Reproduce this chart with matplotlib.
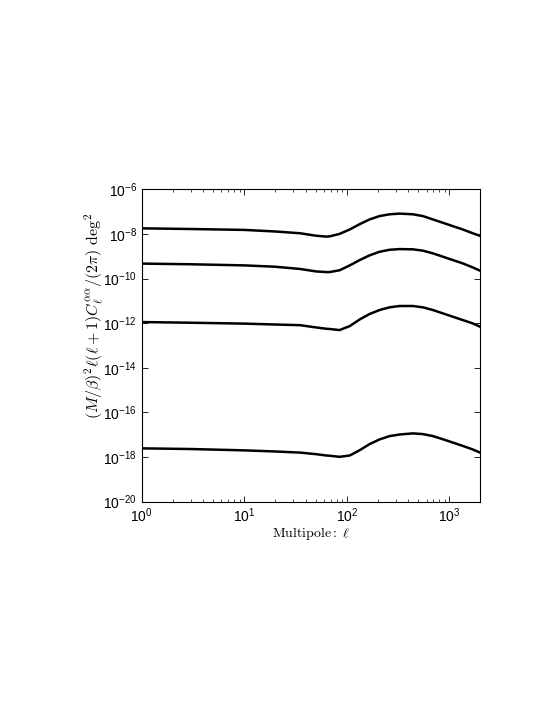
import matplotlib
matplotlib.use('Agg')
import matplotlib.pyplot as plt
import numpy as np
from matplotlib.ticker import LogLocator, NullLocator, NullFormatter

plt.rcParams['font.family'] = ['Liberation Sans', 'DejaVu Sans']
plt.rcParams['mathtext.fontset'] = 'cm'

# multipole values
ell = [1, 3, 10, 20, 35, 50, 63, 68, 85, 107, 134, 167, 209, 262, 327, 441,
       552, 691, 865, 1081, 1353, 1694, 2000]

# log10 of the spectra
curve1 = [-7.75, -7.78, -7.82, -7.89, -7.97, -8.08, -8.12, -8.11, -8.00, -7.80, -7.56, -7.35,
          -7.20, -7.12, -7.09, -7.12, -7.20, -7.35, -7.50, -7.65, -7.80, -7.97, -8.09]
curve2 = [-9.33, -9.36, -9.41, -9.47, -9.57, -9.68, -9.71, -9.71, -9.63, -9.41, -9.17, -8.96,
          -8.80, -8.71, -8.68, -8.69, -8.75, -8.87, -9.02, -9.17, -9.32, -9.50, -9.65]
curve3 = [-11.95, -11.98, -12.02, -12.06, -12.09, -12.19, -12.25, -12.26, -12.31, -12.13, -11.83, -11.59,
          -11.41, -11.29, -11.23, -11.23, -11.29, -11.41, -11.56, -11.71, -11.86, -12.01, -12.16]
curve4 = [-17.61, -17.64, -17.70, -17.75, -17.80, -17.87, -17.93, -17.94, -17.99, -17.93, -17.69, -17.42,
          -17.21, -17.06, -16.99, -16.94, -16.97, -17.06, -17.20, -17.35, -17.50, -17.66, -17.80]

fig = plt.figure(figsize=(5.45, 7.05), dpi=100)
ax = fig.add_axes([0.260, 0.2884, 0.621, 0.4431])

for c in [curve1, curve2, curve3, curve4]:
    ax.plot(ell, 10.0 ** np.array(c), color='black', lw=1.8)

ax.set_xscale('log')
ax.set_yscale('log')
ax.set_xlim(1, 2000)
ax.set_ylim(1e-20, 1e-6)

ax.set_yticks([10.0 ** e for e in range(-20, -5, 2)])
ax.yaxis.set_minor_locator(NullLocator())
ax.xaxis.set_minor_locator(LogLocator(base=10, subs=np.arange(2, 10)))
ax.xaxis.set_minor_formatter(NullFormatter())

ax.tick_params(which='both', direction='in', top=True, right=True, labelsize=10)
ax.tick_params(which='major', length=4, width=0.6)
ax.tick_params(which='minor', length=2, width=0.5)
for s in ax.spines.values():
    s.set_linewidth(0.8)

ax.set_xlabel(r'$\mathrm{Multipole:}\ \ell$', fontsize=10, labelpad=0)
ax.set_ylabel(r'$(M/\beta)^2\ell(\ell+1)C_\ell^{\alpha\alpha}/(2\pi)\ \mathrm{deg}^2$', fontsize=11.5)
ax.yaxis.set_label_coords(-0.106, 0.594)

fig.savefig('out.png', dpi=100)
